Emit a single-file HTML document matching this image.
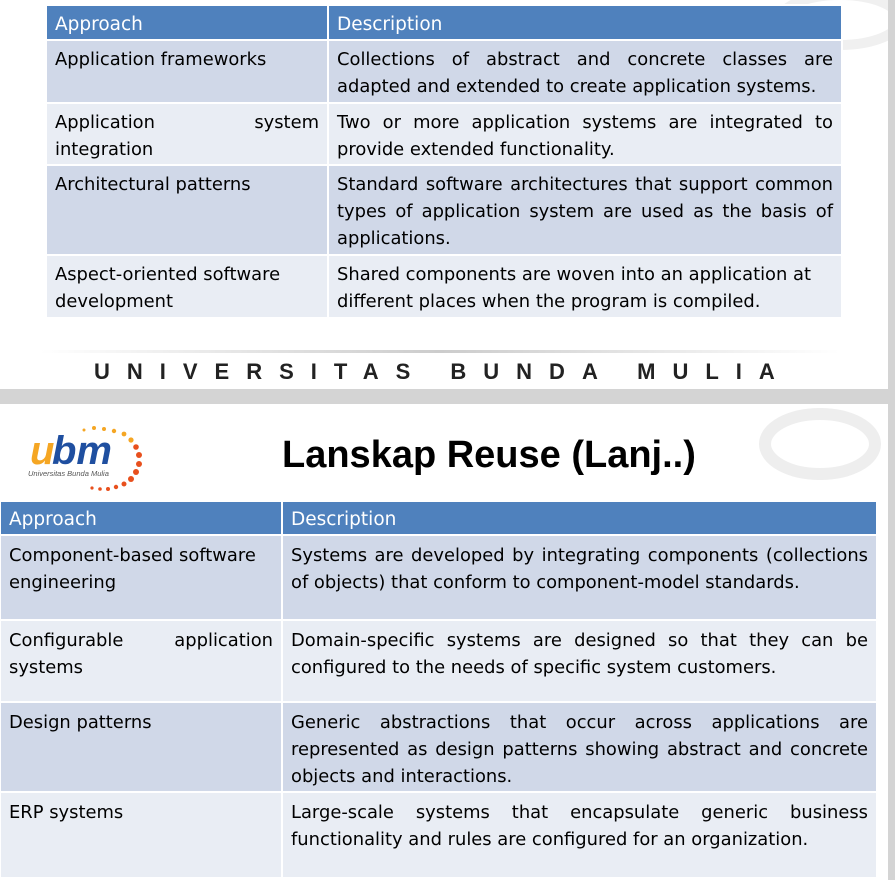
<!DOCTYPE html>
<html><head><meta charset="utf-8"><style>
body{margin:0;width:895px;height:880px;background:#d4d4d4;position:relative;overflow:hidden;font-family:"DejaVu Sans","Liberation Sans",sans-serif;}
.slide{position:absolute;left:0;width:888px;background:#fff;}
table{position:absolute;border-collapse:collapse;color:#000;}
td,th{border:2px solid #fff;vertical-align:top;text-align:left;font-weight:normal;padding:0 8px;}
th{background:#4f81bd;color:#fff;vertical-align:middle;padding-top:3px;font-size:18.5px;}
tr.a td{background:#d0d8e8;}
tr.b td{background:#e9edf4;}
.j{display:block;text-align:justify;text-align-last:justify;}
.l{display:block;}
#t1{left:45px;top:4px;width:798px;font-size:17.9px;line-height:27px;}
#t2{left:-1px;top:500px;width:879px;font-size:17.9px;line-height:27px;}
</style></head><body>
<div class="slide" style="top:0;height:389px;">
<svg width="888" height="389" style="position:absolute;left:0;top:0"><ellipse cx="840" cy="20" rx="60" ry="25" fill="none" stroke="#f0f0f0" stroke-width="10"/></svg>
<table id="t1">
<tr style="height:35px"><th style="width:264px">Approach</th><th>Description</th></tr>
<tr class="a" style="height:63px"><td style="padding-top:5px">Application frameworks</td><td style="padding-top:5px"><span class="j">Collections of abstract and concrete classes are</span><span class="l">adapted and extended to create application systems.</span></td></tr>
<tr class="b" style="height:62px"><td style="padding-top:5px"><span class="j">Application system</span><span class="l">integration</span></td><td style="padding-top:5px"><span class="j">Two or more application systems are integrated to</span><span class="l">provide extended functionality.</span></td></tr>
<tr class="a" style="height:90px"><td style="padding-top:5px">Architectural patterns</td><td style="padding-top:5px"><span class="j">Standard software architectures that support common</span><span class="j">types of application system are used as the basis of</span><span class="l">applications.</span></td></tr>
<tr class="b" style="height:63px"><td style="padding-top:5px"><span class="l">Aspect-oriented software</span><span class="l">development</span></td><td style="padding-top:5px"><span class="l">Shared components are woven into an application at</span><span class="l">different places when the program is compiled.</span></td></tr>
</table>
<div style="position:absolute;left:40px;top:350px;width:800px;height:3px;background:linear-gradient(90deg,#fff,#ccc,#fff);"></div>
<div style="position:absolute;left:94px;top:359px;font-family:'Liberation Sans',sans-serif;font-weight:bold;font-size:22px;letter-spacing:17px;color:#222;">UNIVERSITAS BUNDA MULIA</div>
</div>
<div class="slide" style="top:404px;height:476px;">
<svg width="888" height="120" style="position:absolute;left:0;top:0"><ellipse cx="820" cy="40" rx="55" ry="30" fill="none" stroke="#eeeeee" stroke-width="12"/></svg>
<div style="position:absolute;left:14px;top:18px;width:150px;height:72px;">
<svg width="150" height="72"><g fill="#f5a623"><circle cx="70" cy="8" r="1.5"/><circle cx="80" cy="6" r="2"/><circle cx="90" cy="7" r="2"/><circle cx="100" cy="9" r="2.2"/><circle cx="110" cy="12" r="2.4"/><circle cx="117" cy="18" r="2.6"/></g><g fill="#e8501d"><circle cx="122" cy="25" r="2.8"/><circle cx="125" cy="33" r="3"/><circle cx="125" cy="42" r="3"/><circle cx="122" cy="50" r="3"/><circle cx="117" cy="57" r="3"/><circle cx="110" cy="62" r="2.5"/><circle cx="102" cy="65" r="2.2"/><circle cx="94" cy="67" r="2"/><circle cx="86" cy="67" r="1.8"/><circle cx="78" cy="66" r="1.6"/></g>
<text x="16" y="42" font-family="Liberation Sans" font-weight="bold" font-style="italic" font-size="40" fill="#f5a623">u</text>
<text x="38" y="42" font-family="Liberation Sans" font-weight="bold" font-style="italic" font-size="40" fill="#1f4fa0">bm</text>
<text x="14" y="54" font-family="Liberation Sans" font-style="italic" font-size="7.5" fill="#555">Universitas Bunda Mulia</text></svg></div>
<div style="position:absolute;left:282px;top:30px;font-family:'Liberation Sans',sans-serif;font-weight:bold;font-size:38px;color:#000;">Lanskap Reuse (Lanj..)</div>
</div>
<table id="t2">
<tr style="height:34px"><th style="width:264px">Approach</th><th>Description</th></tr>
<tr class="a" style="height:85px"><td style="padding-top:6px"><span class="l">Component-based software</span><span class="l">engineering</span></td><td style="padding-top:6px"><span class="j">Systems are developed by integrating components (collections</span><span class="l">of objects) that conform to component-model standards.</span></td></tr>
<tr class="b" style="height:82px"><td style="padding-top:6px"><span class="j">Configurable application</span><span class="l">systems</span></td><td style="padding-top:6px"><span class="j">Domain-specific systems are designed so that they can be</span><span class="l">configured to the needs of specific system customers.</span></td></tr>
<tr class="a" style="height:90px"><td style="padding-top:6px">Design patterns</td><td style="padding-top:6px"><span class="j">Generic abstractions that occur across applications are</span><span class="j">represented as design patterns showing abstract and concrete</span><span class="l">objects and interactions.</span></td></tr>
<tr class="b" style="height:86px"><td style="padding-top:6px">ERP systems</td><td style="padding-top:6px"><span class="j">Large-scale systems that encapsulate generic business</span><span class="l">functionality and rules are configured for an organization.</span></td></tr>
</table>
</body></html>
